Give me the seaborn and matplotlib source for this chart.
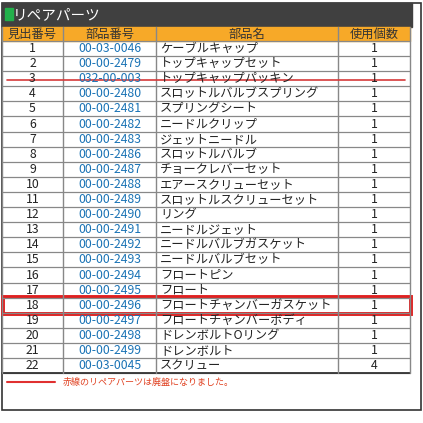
import matplotlib
matplotlib.use("Agg")
import matplotlib.pyplot as plt
import seaborn as sns
from matplotlib.patches import Rectangle

sns.set_theme(style="white")
plt.rcParams['font.family'] = ['Noto Sans CJK JP', 'DejaVu Sans']

title = "リペアパーツ"
headers = ["見出番号", "部品番号", "部品名", "使用個数"]
numbers = list(range(1, 23))
part_codes = ["00-03-0046", "00-00-2479", "032-00-003", "00-00-2480", "00-00-2481", "00-00-2482",
              "00-00-2483", "00-00-2486", "00-00-2487", "00-00-2488", "00-00-2489", "00-00-2490",
              "00-00-2491", "00-00-2492", "00-00-2493", "00-00-2494", "00-00-2495", "00-00-2496",
              "00-00-2497", "00-00-2498", "00-00-2499", "00-03-0045"]
part_names = ["ケーブルキャップ", "トップキャップセット", "トップキャップパッキン", "スロットルバルブスプリング",
              "スプリングシート", "ニードルクリップ", "ジェットニードル", "スロットルバルブ", "チョークレバーセット",
              "エアースクリューセット", "スロットルスクリューセット", "リング", "ニードルジェット",
              "ニードルバルブガスケット", "ニードルバルブセット", "フロートピン", "フロート",
              "フロートチャンバーガスケット", "フロートチャンバーボディ", "ドレンボルトOリング", "ドレンボルト", "スクリュー"]
quantities = [1]*21 + [4]
discontinued = [3]
highlighted = [18]
note = "赤線のリペアパーツは廃盤になりました。"

fig = plt.figure(figsize=(4.23, 4.23), dpi=100)
ax = fig.add_axes([0, 0, 1, 1])
ax.set_xlim(0, 423); ax.set_ylim(423, 0); ax.axis('off')

cols = [2, 63, 156, 338, 410]
top_hdr, y0, rh = 27, 41, 15.1
n = len(numbers)
yend = y0 + n*rh
fs = 8.8

ax.add_patch(Rectangle((2, 3), 419, 407, fill=False, ec='#333333', lw=1.2))
ax.add_patch(Rectangle((2, 3), 410, top_hdr-3, color='#404040'))
ax.add_patch(Rectangle((5, 8), 8, 12, color='#22b04b'))
ax.text(13, 15, title, color='white', fontsize=10.5, va='center', ha='left')
ax.add_patch(Rectangle((2, top_hdr), 408, y0-top_hdr, color='#f7a928'))
for i, h in enumerate(headers):
    ax.text((cols[i]+cols[i+1])/2, (top_hdr+y0)/2, h, fontsize=fs, va='center', ha='center', color='#333333')
for k in range(n+1):
    ax.plot([2, 410], [y0+k*rh]*2, color='#888888', lw=0.9)
ax.plot([2, 410], [yend]*2, color='#333333', lw=1.3)
for x in cols:
    ax.plot([x, x], [top_hdr, yend], color='#888888', lw=1.0)

for k in range(n):
    yc = y0 + (k+0.5)*rh
    ax.text((cols[0]+cols[1])/2, yc, str(numbers[k]), fontsize=fs, va='center', ha='center', color='#222222')
    ax.text((cols[1]+cols[2])/2, yc, part_codes[k], fontsize=fs, va='center', ha='center', color='#1a73b5')
    ax.text(cols[2]+4, yc, part_names[k], fontsize=fs, va='center', ha='left', color='#222222')
    ax.text((cols[3]+cols[4])/2, yc, str(quantities[k]), fontsize=fs, va='center', ha='center', color='#222222')
    if numbers[k] in discontinued:
        ax.plot([7, 405], [yc+1, yc+1], color='#d63a3a', lw=1.2)
    if numbers[k] in highlighted:
        ax.add_patch(Rectangle((3, y0+k*rh-1), 408, rh+2, fill=False, ec='#e02020', lw=2.8))

ax.plot([7, 55], [yend+9, yend+9], color='#e03030', lw=1.5)
ax.text(63, yend+9, note, fontsize=6.5, color='#e04020', va='center', ha='left')

fig.savefig("out.png", dpi=100)
